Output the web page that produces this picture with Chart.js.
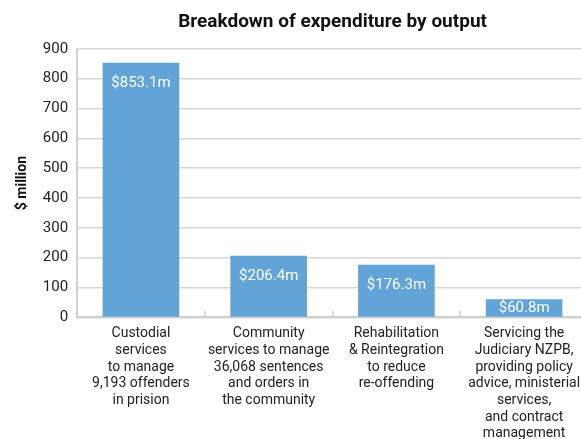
<!DOCTYPE html>
<html lang="en">
<head>
  <meta charset="UTF-8" />
  <title>Breakdown of expenditure by output</title>
  <script src="https://cdn.jsdelivr.net/npm/chart.js@4.4.0/dist/chart.umd.min.js"></script>
  <style>
    html, body {
      margin: 0;
      padding: 0;
      background: #fff;
      overflow: hidden;
    }
    #chart-container {
      position: relative;
      width: 592px;
      height: 450px;
    }
  </style>
</head>
<body>
  <div id="chart-container">
    <canvas id="outputChart"></canvas>
  </div>

  <script>
    const categories = [
      ['Custodial', 'services', 'to manage', '9,193 offenders', 'in prision'],
      ['Community', 'services to manage', '36,068 sentences', 'and orders in', 'the community'],
      ['Rehabilitation', '& Reintegration', 'to reduce', 're-offending'],
      ['Servicing the', 'Judiciary NZPB,', 'providing policy', 'advice, ministerial', 'services,', 'and contract', 'management']
    ];
    const expenditure = [853.1, 206.4, 176.3, 60.8];  // $ million
    const yTicks = [0, 100, 200, 300, 400, 500, 600, 700, 800, 900];

    const FONT = 'Roboto, "DejaVu Sans", sans-serif';
    const BAR = '#62a3d8';

    // white "$xxx.xm" labels just inside the top of each bar
    const barLabels = {
      id: 'barLabels',
      afterDatasetsDraw(chart) {
        const ctx = chart.ctx;
        const meta = chart.getDatasetMeta(0);
        ctx.save();
        ctx.fillStyle = '#ffffff';
        ctx.font = '15px ' + FONT;
        ctx.textAlign = 'center';
        ctx.textBaseline = 'middle';
        meta.data.forEach((bar, i) => {
          const v = chart.data.datasets[0].data[i];
          const y = Math.min(bar.y + 20, (bar.y + bar.base) / 2);
          ctx.fillText('$' + v.toFixed(1) + 'm', bar.x, y);
        });
        ctx.restore();
      }
    };

    // short marks rising from the baseline between categories
    const categoryMarks = {
      id: 'categoryMarks',
      afterDatasetsDraw(chart) {
        const x = chart.scales.x;
        const bottom = chart.chartArea.bottom;
        const ctx = chart.ctx;
        ctx.save();
        ctx.strokeStyle = '#cfcfcf';
        ctx.lineWidth = 1.5;
        for (let i = 0; i < categories.length - 1; i++) {
          const px = Math.round((x.getPixelForValue(i) + x.getPixelForValue(i + 1)) / 2);
          ctx.beginPath();
          ctx.moveTo(px, bottom);
          ctx.lineTo(px, bottom - 7);
          ctx.stroke();
        }
        ctx.restore();
      }
    };

    new Chart(document.getElementById('outputChart'), {
      type: 'bar',
      data: {
        labels: categories,
        datasets: [{
          data: expenditure,
          backgroundColor: BAR,
          barPercentage: 0.6,
          categoryPercentage: 1.0,
          borderWidth: 0
        }]
      },
      options: {
        responsive: true,
        maintainAspectRatio: false,
        animation: false,
        layout: { padding: { left: 0, right: 4, top: 0, bottom: 0 } },
        plugins: {
          legend: { display: false },
          tooltip: { enabled: false },
          title: {
            display: true,
            fullSize: false,  // centre over the plot area, not the canvas
            text: 'Breakdown of expenditure by output',
            color: '#111',
            font: { family: FONT, size: 19, weight: 'bold' },
            padding: { top: 11, bottom: 15 }
          }
        },
        scales: {
          x: {
            grid: { display: false, drawTicks: false },
            border: { color: '#cfcfcf', width: 2 },
            ticks: {
              color: '#222',
              padding: 8,
              maxRotation: 0,
              autoSkip: false,
              font: { family: FONT, size: 14, lineHeight: 1.19 }
            }
          },
          y: {
            min: 0,
            max: 900,
            afterBuildTicks: axis => {
              axis.ticks = yTicks.map(v => ({ value: v }));
            },
            grid: { color: '#d6d6d6', lineWidth: 1.5, drawTicks: false },
            border: { color: '#cfcfcf', width: 2 },
            ticks: {
              color: '#222',
              padding: 9,
              font: { family: FONT, size: 15 }
            },
            title: {
              display: true,
              text: '$ million',
              color: '#111',
              padding: { top: 14, bottom: 3 },
              font: { family: FONT, size: 14, weight: 'bold' }
            }
          }
        }
      },
      plugins: [barLabels, categoryMarks]
    });
  </script>
</body>
</html>
